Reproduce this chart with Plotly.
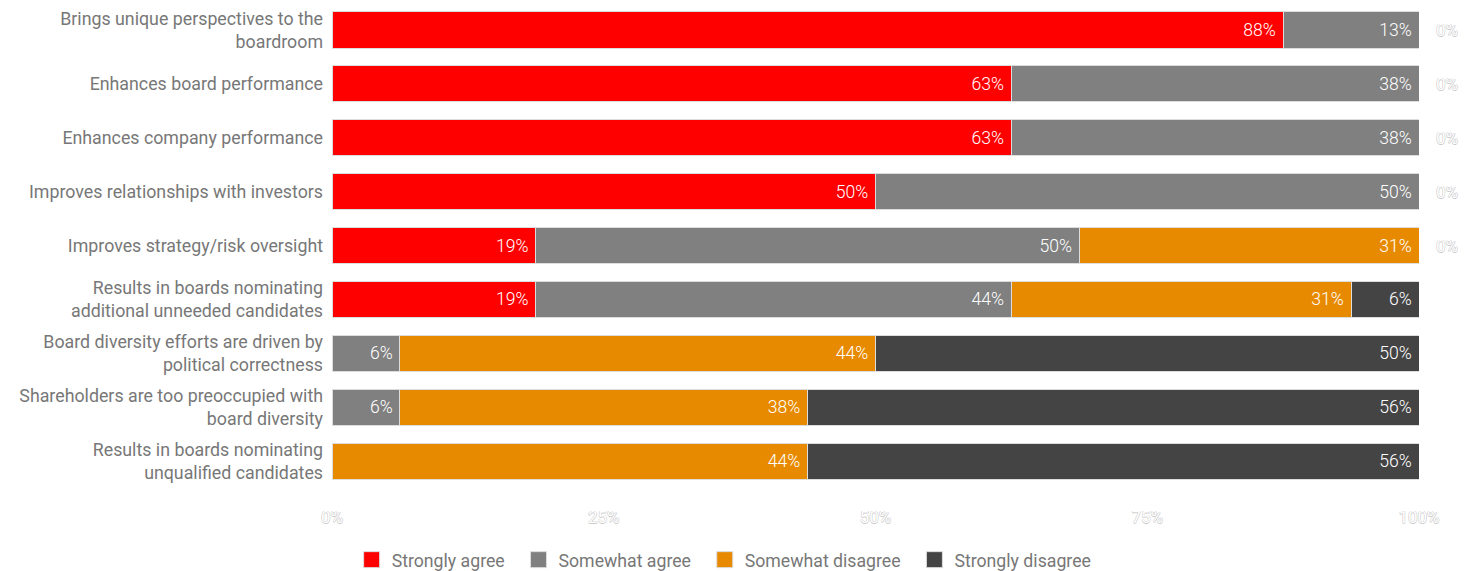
import math
import plotly.graph_objects as go

# Survey statements (top to bottom)
statements = [
    "Brings unique perspectives to the<br>boardroom",
    "Enhances board performance",
    "Enhances company performance",
    "Improves relationships with investors",
    "Improves strategy/risk oversight",
    "Results in boards nominating<br>additional unneeded candidates",
    "Board diversity efforts are driven by<br>political correctness",
    "Shareholders are too preoccupied with<br>board diversity",
    "Results in boards nominating<br>unqualified candidates",
]

# Share of respondents (%) per answer
strongly_agree = [87.5, 62.5, 62.5, 50.0, 18.75, 18.75, 0.0, 0.0, 0.0]
somewhat_agree = [12.5, 37.5, 37.5, 50.0, 50.0, 43.75, 6.25, 6.25, 0.0]
somewhat_disagree = [0.0, 0.0, 0.0, 0.0, 31.25, 31.25, 43.75, 37.5, 43.75]
strongly_disagree = [0.0, 0.0, 0.0, 0.0, 0.0, 6.25, 50.0, 56.25, 56.25]

series = [
    ("Strongly agree", strongly_agree, "#ff0000"),
    ("Somewhat agree", somewhat_agree, "#808080"),
    ("Somewhat disagree", somewhat_disagree, "#e88a00"),
    ("Strongly disagree", strongly_disagree, "#444444"),
]


def pct(v):
    # round half up, e.g. 87.5 -> "88%"
    return f"{math.floor(v + 0.5)}%"


outline_font = dict(
    family="Roboto", size=17, color="#ffffff",
    shadow="-0.5px 0 #cccccc, 0.5px 0 #cccccc, 0 0.5px #cccccc, 0 -0.5px #cccccc",
)

fig = go.Figure()
for name, vals, color in series:
    fig.add_trace(go.Bar(
        name=name,
        y=statements,
        x=vals,
        orientation="h",
        marker=dict(color=color, line=dict(color="#dddddd", width=1)),
        text=[pct(v) + "\u00a0" if v > 0 else "" for v in vals],
        texttemplate="%{text}",
        textposition="inside",
        insidetextanchor="end",
        textangle=0,
        insidetextfont=dict(family="Roboto", size=17.6, color="#ffffff", weight=300),
        hoverinfo="skip",
        showlegend=False,
    ))
    # square legend swatch (padded name keeps items spaced apart)
    fig.add_trace(go.Scatter(
        name=name + "\u00a0\u00a0",
        x=[None],
        y=[None],
        mode="markers",
        marker=dict(symbol="square", size=17, color=color,
                    line=dict(color="#dddddd", width=1)),
        hoverinfo="skip",
    ))

# Zero shares at the far end of each bar
for s, v in zip(statements, strongly_disagree):
    if v == 0:
        fig.add_annotation(
            x=100, y=s, xref="x", yref="y",
            text=pct(v), showarrow=False,
            xanchor="left", xshift=15,
            font=outline_font,
        )

fig.update_layout(
    width=1478,
    height=571,
    barmode="stack",
    bargap=0.33,
    plot_bgcolor="#ffffff",
    paper_bgcolor="#ffffff",
    margin=dict(l=332, r=59, t=3, b=83),
    font=dict(family="Roboto", size=17.8, color="#777777"),
    xaxis=dict(
        range=[0, 100],
        tickvals=[0, 25, 50, 75, 100],
        ticktext=["0%", "25%", "50%", "75%", "100%"],
        showgrid=False,
        zeroline=False,
        showline=False,
        ticks="",
        ticklabelstandoff=17,
        tickfont=outline_font,
    ),
    yaxis=dict(
        autorange="reversed",
        showgrid=False,
        zeroline=False,
        showline=False,
        ticks="",
        ticklabelstandoff=8,
        tickfont=dict(family="Roboto", size=17.8, color="#777777"),
    ),
    legend=dict(
        orientation="h",
        xref="container",
        yref="container",
        x=0.493,
        xanchor="center",
        y=0.019,
        yanchor="middle",
        font=dict(family="Roboto", size=17.7, color="#777777"),
        itemwidth=30,
        traceorder="normal",
    ),
    uniformtext=dict(mode="show", minsize=10),
)

fig.write_html("out.html")
